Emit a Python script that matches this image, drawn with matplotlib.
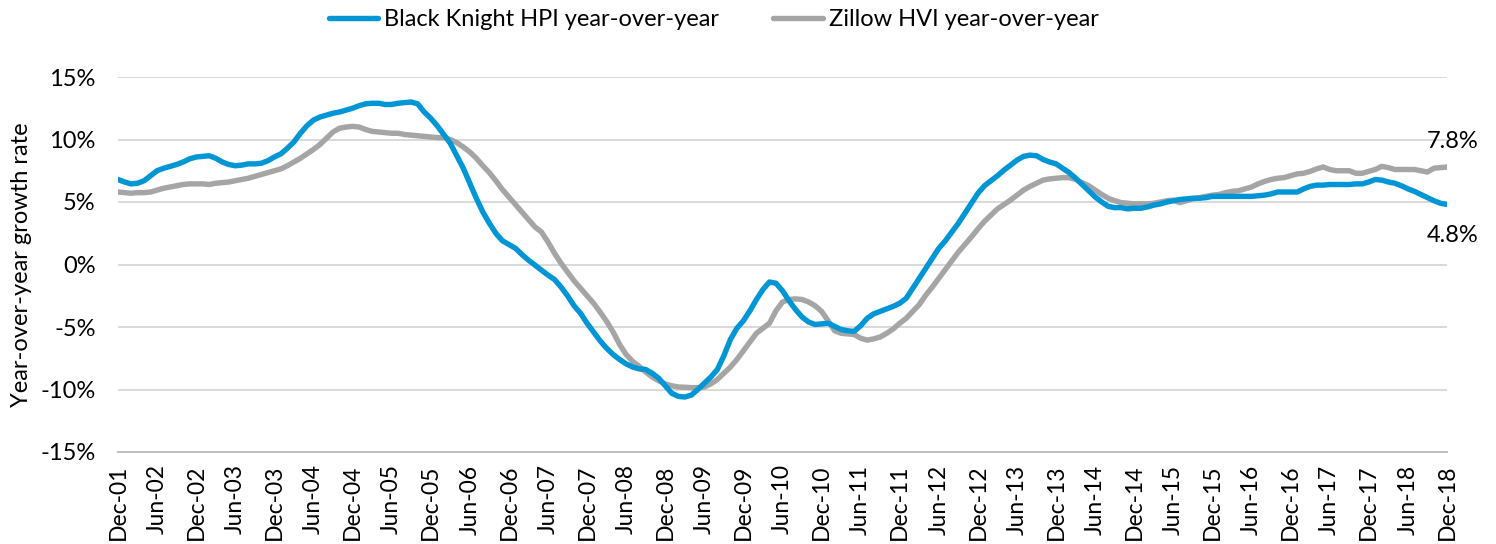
import matplotlib
matplotlib.use("Agg")
import matplotlib.pyplot as plt
import numpy as np

plt.rcParams['font.family'] = ['Lato', 'DejaVu Sans']

# Monthly series, Dec-01 .. Dec-18 (205 months)
black_knight = [
    6.8, 6.6, 6.45, 6.5, 6.7, 7.1, 7.5, 7.7, 7.85, 8.0,
    8.2, 8.45, 8.6, 8.65, 8.7, 8.5, 8.2, 8.0, 7.9, 7.95,
    8.05, 8.05, 8.1, 8.3, 8.6, 8.85, 9.3, 9.8, 10.5, 11.1,
    11.55, 11.8, 11.95, 12.1, 12.2, 12.35, 12.5, 12.7, 12.85, 12.9,
    12.9, 12.8, 12.8, 12.9, 12.95, 13.0, 12.85, 12.2, 11.7, 11.1,
    10.4, 9.7, 8.7, 7.7, 6.5, 5.3, 4.2, 3.3, 2.5, 1.9,
    1.6, 1.3, 0.8, 0.35, -0.05, -0.45, -0.85, -1.2, -1.8, -2.5,
    -3.3, -3.9, -4.7, -5.4, -6.1, -6.7, -7.2, -7.6, -7.95, -8.2,
    -8.35, -8.4, -8.7, -9.1, -9.7, -10.3, -10.55, -10.6, -10.45, -10.0,
    -9.5, -9.0, -8.4, -7.3, -6.0, -5.1, -4.5, -3.7, -2.8, -2.0,
    -1.4, -1.5, -2.1, -2.9, -3.6, -4.2, -4.6, -4.8, -4.75, -4.7,
    -4.95, -5.2, -5.3, -5.35, -4.9, -4.3, -3.95, -3.75, -3.55, -3.35,
    -3.1, -2.7, -1.9, -1.1, -0.3, 0.5, 1.3, 1.9, 2.6, 3.3,
    4.1, 4.9, 5.7, 6.3, 6.7, 7.1, 7.55, 7.95, 8.35, 8.65,
    8.75, 8.7, 8.4, 8.2, 8.05, 7.7, 7.35, 6.9, 6.4, 5.9,
    5.4, 5.0, 4.65, 4.55, 4.55, 4.45, 4.5, 4.5, 4.6, 4.75,
    4.85, 5.0, 5.1, 5.2, 5.25, 5.3, 5.3, 5.35, 5.45, 5.45,
    5.45, 5.45, 5.45, 5.45, 5.45, 5.5, 5.55, 5.65, 5.8, 5.8,
    5.8, 5.8, 6.05, 6.25, 6.35, 6.35, 6.4, 6.4, 6.4, 6.4,
    6.45, 6.45, 6.6, 6.8, 6.75, 6.6, 6.5, 6.3, 6.05, 5.85,
    5.6, 5.35, 5.1, 4.9, 4.8,
]

zillow = [
    5.8, 5.75, 5.7, 5.75, 5.75, 5.8, 5.95, 6.1, 6.2, 6.3,
    6.4, 6.45, 6.45, 6.45, 6.4, 6.5, 6.55, 6.6, 6.7, 6.8,
    6.9, 7.05, 7.2, 7.35, 7.5, 7.65, 7.9, 8.2, 8.5, 8.85,
    9.2, 9.6, 10.1, 10.6, 10.9, 11.0, 11.05, 11.0, 10.8, 10.65,
    10.6, 10.55, 10.5, 10.5, 10.4, 10.35, 10.3, 10.25, 10.2, 10.15,
    10.15, 10.0, 9.75, 9.4, 9.0, 8.5, 7.9, 7.35, 6.7, 6.0,
    5.4, 4.8, 4.2, 3.6, 3.0, 2.6, 1.8, 0.9, 0.1, -0.6,
    -1.3, -1.9, -2.5, -3.1, -3.8, -4.55, -5.4, -6.4, -7.2, -7.75,
    -8.15, -8.6, -9.0, -9.3, -9.55, -9.7, -9.8, -9.82, -9.85, -9.85,
    -9.8, -9.55, -9.2, -8.7, -8.2, -7.6, -6.9, -6.2, -5.5, -5.1,
    -4.7, -3.7, -3.0, -2.8, -2.75, -2.8, -3.0, -3.3, -3.75, -4.5,
    -5.3, -5.5, -5.55, -5.6, -5.9, -6.05, -5.95, -5.8, -5.5, -5.15,
    -4.7, -4.3, -3.75, -3.2, -2.45, -1.8, -1.1, -0.4, 0.3, 1.0,
    1.6, 2.2, 2.85, 3.45, 3.95, 4.45, 4.8, 5.15, 5.55, 5.95,
    6.25, 6.5, 6.75, 6.85, 6.9, 6.95, 6.95, 6.8, 6.55, 6.3,
    5.95, 5.6, 5.3, 5.1, 4.95, 4.9, 4.85, 4.85, 4.85, 4.9,
    5.0, 5.1, 5.15, 4.95, 5.1, 5.25, 5.35, 5.45, 5.55, 5.6,
    5.75, 5.85, 5.9, 6.05, 6.2, 6.45, 6.65, 6.8, 6.9, 6.95,
    7.1, 7.25, 7.3, 7.45, 7.65, 7.8, 7.6, 7.5, 7.5, 7.5,
    7.3, 7.3, 7.45, 7.6, 7.85, 7.75, 7.6, 7.6, 7.6, 7.6,
    7.5, 7.4, 7.7, 7.75, 7.8,
]

x_labels = [
    "Dec-01", "Jun-02", "Dec-02", "Jun-03", "Dec-03", "Jun-04", "Dec-04",
    "Jun-05", "Dec-05", "Jun-06", "Dec-06", "Jun-07", "Dec-07", "Jun-08",
    "Dec-08", "Jun-09", "Dec-09", "Jun-10", "Dec-10", "Jun-11", "Dec-11",
    "Jun-12", "Dec-12", "Jun-13", "Dec-13", "Jun-14", "Dec-14", "Jun-15",
    "Dec-15", "Jun-16", "Dec-16", "Jun-17", "Dec-17", "Jun-18", "Dec-18",
]
y_ticks = [-15, -10, -5, 0, 5, 10, 15]

series_names = ["Black Knight HPI year-over-year", "Zillow HVI year-over-year"]
colors = ["#0096D6", "#A5A5A5"]

FS = 17

fig = plt.figure(figsize=(14.96, 5.44), dpi=100)
ax = fig.add_axes([118 / 1496, 1 - 452 / 544, (1447 - 118) / 1496, (452 - 77) / 544])

months = np.arange(len(black_knight))
ax.plot(months, black_knight, color=colors[0], lw=3.9, label=series_names[0],
        solid_capstyle='round', solid_joinstyle='round', zorder=3)
ax.plot(months, zillow, color=colors[1], lw=3.9, label=series_names[1],
        solid_capstyle='round', solid_joinstyle='round', zorder=2)

ax.set_xlim(0, len(black_knight) - 1)
ax.set_ylim(-15, 15)
ax.set_yticks(y_ticks)
ax.set_yticklabels([f"{v}%" for v in y_ticks], fontsize=FS, color="#000000")
ax.set_xticks(np.arange(0, len(black_knight), 6))
ax.set_xticklabels(x_labels, rotation=90, fontsize=16.5)
ax.tick_params(axis='both', length=0)
ax.tick_params(axis='x', pad=9)
ax.tick_params(axis='y', pad=16)

ax.grid(axis='y', color="#D9D9D9", lw=1.4)
ax.set_axisbelow(True)
for s in ["top", "right", "left"]:
    ax.spines[s].set_visible(False)
ax.spines["bottom"].set_color("#BFBFBF")
ax.spines["bottom"].set_linewidth(1.4)

ax.set_ylabel("Year-over-year growth rate", fontsize=FS, labelpad=6)

ax.annotate(f"{zillow[-1]:.1f}%", xy=(months[-1], zillow[-1]), xytext=(4, 18),
            textcoords="offset points", ha="center", va="center", fontsize=FS)
ax.annotate(f"{black_knight[-1]:.1f}%", xy=(months[-1], black_knight[-1]), xytext=(4, -22),
            textcoords="offset points", ha="center", va="center", fontsize=FS)

fig.legend(loc="upper center", bbox_to_anchor=(0.477, 1.022), ncol=2, frameon=False,
           fontsize=FS, handlelength=2.1, columnspacing=2.3, handletextpad=0.25)

fig.savefig("out.png", dpi=100)
